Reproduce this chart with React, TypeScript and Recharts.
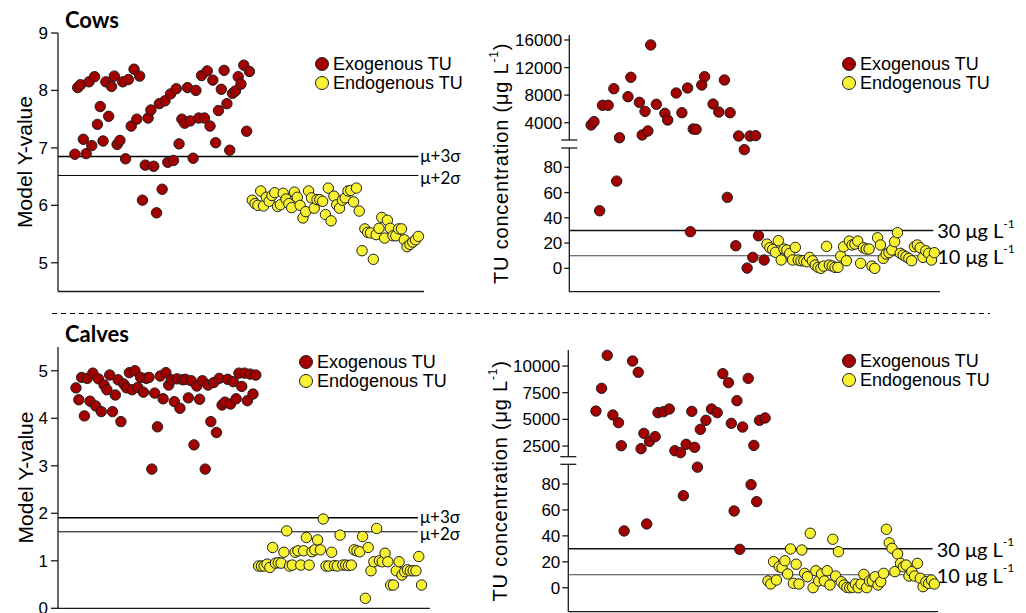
import React from 'react';
import { ScatterChart, Scatter, XAxis, YAxis, ReferenceLine, Legend } from 'recharts';

const RED = '#a30000';
const YELLOW = '#f9f233';
const EDGE = '#1e1e1e';
const AXIS = '#1a1a1a';
const FONT = '"Liberation Sans", Arial, Helvetica, sans-serif';
const NOTE_FONT = 'Lato, "Open Sans", sans-serif';

const seriesNames = ['Exogenous TU', 'Endogenous TU'];
const seriesColors = [RED, YELLOW];
const sigmaLabels = ['μ+3σ', 'μ+2σ'];
const tuLimitLabels = ['30 μg L', '10 μg L'];
const tuLimits = [30, 10];
const BREAK = 1000;

// ---------- Cows: model Y-value ----------
const cowsModelExo = [
  6.89, 8.05, 8.1, 7.15, 6.9, 8.15, 7.04, 8.24, 7.41, 7.72,
  7.12, 8.15, 7.55, 8.07, 8.25, 7.06, 7.13, 8.15, 6.81, 8.19,
  7.38, 8.37, 7.5, 8.25, 6.09, 6.7, 7.52, 7.66, 6.68, 5.87,
  7.77, 6.28, 7.82, 6.75, 7.94, 6.78, 8.03, 7.07, 7.5, 7.43,
  8.05, 7.47, 6.82, 8.0, 7.52, 8.26, 7.52, 8.34, 7.38, 8.18,
  7.09, 7.65, 8.02, 8.35, 7.77, 6.96, 7.95, 7.99, 8.24, 8.11,
  8.44, 7.29, 8.33,
];
const cowsModelEndo = [
  6.09, 6.03, 6.0, 6.25, 5.99, 6.14, 6.07, 6.17, 6.22, 5.98,
  6.01, 6.21, 6.11, 6.03, 5.96, 6.23, 6.14, 6.0, 5.78, 5.89,
  6.25, 6.13, 5.95, 6.1, 6.1, 6.07, 5.84, 6.3, 5.73, 6.16,
  6.01, 5.95, 6.09, 6.13, 6.25, 6.26, 6.06, 6.3, 5.9, 5.21,
  5.59, 5.53, 5.52, 5.06, 5.49, 5.6, 5.79, 5.43, 5.74, 5.6,
  5.47, 5.47, 5.59, 5.59, 5.4, 5.28, 5.32, 5.36, 5.4, 5.46,
];
const cowsModelTicks = [5, 6, 7, 8, 9];
const cowsModelDomain = [4.5, 9];
const cowsModelXDomain = [-6, 124];
const cowsModelLimits = [6.85, 6.52];
const cowsModelLineEnd = 122;

// ---------- Cows: TU concentration ----------
const cowsTuExoIdx = [
  0, 1, 3, 4, 6, 8, 9, 10, 13, 14, 17, 18, 19, 20, 21, 23, 26, 27, 30, 32,
  34, 35, 36, 37, 39, 40, 43, 45, 47, 48, 49, 51, 52, 54, 55, 56, 57, 58, 59, 61,
];
const cowsTuExoVal = [
  3670, 4150, 45.6, 6530, 6530, 8930, 69.1, 1820, 7770, 10590,
  6960, 2220, 5650, 2800, 15280, 6670, 5360, 4390, 8310, 5450,
  9040, 29.0, 3090, 3040, 9470, 10680, 6710, 5550, 10200, 56.2,
  5450, 17.9, 2070, 94, 0.2, 2070, 8.7, 2120, 25.8, 6.6,
];
const cowsTuEndo = [
  19.2, 16.3, 15.0, 12.7, 21.9, 6.6, 15.3, 14.5, 11.9, 6.6,
  16.6, 6.6, 6.0, 6.0, 5.2, 8.7, 6.0, 2.6, 0.8, 0.0,
  1.8, 17.4, 2.6, 1.8, 0.8, 0.8, 9.7, 17.1, 6.0, 21.6,
  18.5, 19.2, 21.6, 4.0, 16.3, 15.3, 15.3, 1.8, 0.0, 24.2,
  18.5, 7.9, 11.3, 12.4, 14.5, 21.1, 28.2, 11.9, 10.5, 9.2,
  7.9, 6.0, 17.1, 18.5, 16.3, 8.7, 13.9, 11.9, 6.6, 12.4,
];
const cowsTuUpperTicks = [4000, 8000, 12000, 16000];
const cowsTuUpperDomain = [1490, 16725];
const cowsTuLowerTicks = [0, 20, 40, 60, 80];
const cowsTuLowerDomain = [-18.5, 95.3];
const cowsTuXDomain = [-7.7, 123];
const cowsTuLineEnd = 120.6;

// ---------- Calves: model Y-value ----------
const calvesModelExo = [
  4.64, 4.39, 4.86, 4.05, 4.84, 4.36, 4.95, 4.26, 4.83, 4.14,
  4.7, 4.6, 4.91, 4.14, 4.49, 4.81, 3.93, 4.72, 4.64, 4.96,
  4.6, 5.0, 4.65, 4.86, 4.55, 4.84, 4.86, 2.93, 4.53, 3.82,
  4.89, 4.41, 4.96, 4.7, 4.81, 4.35, 4.83, 4.21, 4.81, 4.82,
  4.43, 4.79, 3.44, 4.68, 4.4, 4.79, 2.93, 4.7, 3.93, 4.75,
  3.7, 4.84, 4.28, 4.34, 4.82, 4.3, 4.77, 4.41, 4.95, 4.67,
  4.95, 4.37, 4.93, 4.51, 4.91,
];
const calvesModelEndo = [
  0.89, 0.89, 0.89, 0.93, 0.86, 1.28, 0.95, 0.96, 0.95, 1.18,
  1.63, 0.89, 0.91, 1.18, 1.21, 0.91, 1.21, 1.49, 0.91, 1.19,
  1.23, 1.44, 1.23, 1.88, 0.89, 0.89, 1.18, 0.9, 0.89, 1.54,
  0.91, 0.91, 0.9, 0.91, 1.23, 1.21, 1.19, 1.51, 0.21, 1.28,
  0.79, 0.98, 1.68, 1.0, 0.98, 1.16, 0.98, 0.49, 0.49, 0.79,
  0.98, 0.7, 0.77, 0.81, 0.79, 0.79, 0.79, 1.09, 0.49,
];
const calvesModelTicks = [0, 1, 2, 3, 4, 5];
const calvesModelDomain = [0, 5.5];
const calvesModelXDomain = [-6.4, 126];
const calvesModelLimits = [1.907, 1.61];
const calvesModelLineEnd = 121.7;

// ---------- Calves: TU concentration ----------
const calvesTuExoIdx = [
  0, 2, 4, 6, 8, 9, 10, 13, 15, 16, 17, 18, 19, 21, 22, 24, 26, 28, 30, 31,
  32, 34, 35, 36, 37, 39, 41, 43, 45, 47, 48, 49, 50, 51, 52, 54, 55, 56, 57, 58, 60,
];
const calvesTuExoVal = [
  5780, 7910, 11000, 5410, 4690, 2530, 43.8, 10470, 9410, 2250,
  3690, 49.2, 2940, 3380, 5630, 5720, 5970, 2060, 1880, 71.0,
  2660, 5750, 2380, 93, 4060, 4910, 5970, 5630, 9280, 8440,
  4630, 59.2, 6750, 29.6, 4280, 8840, 79.5, 2560, 66.4, 4910, 5130,
];
const calvesTuEndo = [
  5.2, 2.9, 20.1, 5.9, 16.2, 15.4, 20.8, 10.6, 29.9, 3.4,
  18.1, 2.9, 29.1, 11.1, 8.5, 42.0, 0.0, 13.1, 5.2, 10.6,
  5.2, 13.1, 2.1, 37.4, 9.0, 27.8, 4.6, 2.1, 0.3, 0.0,
  0.3, 2.9, 0.0, 2.9, 10.3, 0.0, 5.2, 5.2, 8.5, 2.1,
  4.6, 11.1, 45.1, 34.7, 30.4, 12.4, 26.0, 18.8, 16.2, 17.5,
  9.0, 12.4, 9.0, 18.8, 7.3, 0.8, 4.6, 3.4, 5.9, 2.9,
];
const calvesTuUpperTicks = [2500, 5000, 7500, 10000];
const calvesTuUpperDomain = [1500, 11500];
const calvesTuLowerTicks = [0, 20, 40, 60, 80];
const calvesTuLowerDomain = [-18.5, 95.2];
const calvesTuXDomain = [-9.8, 121.3];
const calvesTuLineEnd = 119.4;

type Pt = { x: number; y: number };
const seq = (vals: number[], start: number): Pt[] => vals.map((y, i) => ({ x: start + i, y }));
const pairs = (idx: number[], vals: number[]): Pt[] => idx.map((x, i) => ({ x, y: vals[i] }));

const dotShape = (fill: string) => (p: any) => (
  <circle cx={p.cx} cy={p.cy} r={5.2} fill={fill} stroke={EDGE} strokeWidth={1} />
);

const LegendBox = () => (
  <div style={{ fontFamily: FONT, fontSize: 18, lineHeight: '19px', color: '#000' }}>
    {seriesNames.map((name, i) => (
      <div key={name} style={{ display: 'flex', alignItems: 'center', whiteSpace: 'nowrap', height: 19 }}>
        <svg width={16} height={16} style={{ marginRight: 3, flex: 'none' }}>
          <circle cx={8} cy={8} r={6.5} fill={seriesColors[i]} stroke={EDGE} strokeWidth={1} />
        </svg>
        <span>{name}</span>
      </div>
    ))}
  </div>
);

const AxisTitle = (p: any) => {
  const { cx, cy, text, sup, tail, size = 21, spacing = 0 } = p;
  return (
    <text
      x={cx}
      y={cy}
      transform={`rotate(-90 ${cx} ${cy})`}
      textAnchor="middle"
      dominantBaseline="central"
      fontFamily={FONT}
      fontSize={size}
      letterSpacing={spacing}
      fill="#000"
    >
      {text}
      {sup ? (
        <tspan dy={-7} fontSize={12}>
          {sup}
        </tspan>
      ) : null}
      {tail ? <tspan dy={7}>{tail}</tspan> : null}
    </text>
  );
};

const RefText = (p: any) => {
  const { viewBox, text, sup, size = 17, gap = 2, shift = 0 } = p;
  if (!viewBox) return null;
  const x = viewBox.x + viewBox.width + gap;
  const y = viewBox.y + viewBox.height / 2 + shift;
  return (
    <text x={x} y={y} dominantBaseline="central" fontFamily={NOTE_FONT} fontSize={size} fill="#000">
      {text}
      {sup ? (
        <tspan dy={-size * 0.38} fontSize={size * 0.6}>
          {sup}
        </tspan>
      ) : null}
    </text>
  );
};

const axisLineStyle = { stroke: AXIS, strokeWidth: 1.3 };
const tickStyle = { fill: '#000', fontSize: 17, fontFamily: FONT };

function ModelPanel(props: any) {
  const { left, top, width, height, margin, exo, endo, ticks, domain, xDomain, limits, lineEnd, titlePos, legendPos } = props;
  const exoPts = seq(exo, 0);
  const endoPts = seq(endo, exo.length);
  return (
    <div style={{ position: 'absolute', left, top }}>
      <ScatterChart width={width} height={height} margin={margin}>
        <XAxis type="number" dataKey="x" domain={xDomain} tick={false} tickLine={false} height={1} axisLine={axisLineStyle} />
        <YAxis
          type="number"
          dataKey="y"
          domain={domain}
          ticks={ticks}
          interval={0}
          width={50}
          tickSize={7}
          tickMargin={3}
          axisLine={axisLineStyle}
          tickLine={axisLineStyle}
          tick={tickStyle}
          label={<AxisTitle cx={titlePos.cx} cy={titlePos.cy} text="Model Y-value" size={21} />}
        />
        {limits.map((v: number, i: number) => (
          <ReferenceLine
            key={i}
            ifOverflow="visible"
            segment={[{ x: xDomain[0], y: v }, { x: lineEnd, y: v }]}
            stroke="#000"
            strokeWidth={i === 0 ? 1.5 : 1}
            label={<RefText text={sigmaLabels[i]} size={17} gap={2} shift={i === 0 ? -1 : 2} />}
          />
        ))}
        <Scatter name={seriesNames[0]} data={exoPts} shape={dotShape(RED)} isAnimationActive={false} />
        <Scatter name={seriesNames[1]} data={endoPts} shape={dotShape(YELLOW)} isAnimationActive={false} />
        <Legend
          layout="vertical"
          align="center"
          verticalAlign="middle"
          content={<LegendBox />}
          wrapperStyle={{ left: legendPos.left, top: legendPos.top, width: 'auto', height: 'auto' }}
        />
      </ScatterChart>
    </div>
  );
}

function TuPanel(props: any) {
  const {
    left, top, width, height, plotLeft, plotRight, upperTop, upperBottom, lowerTop, lowerBottom,
    exoIdx, exoVal, endo, upperTicks, upperDomain, lowerTicks, lowerDomain, xDomain, lineEnd,
    tickSize, titleCx, legendPos,
  } = props;
  const exo = pairs(exoIdx, exoVal);
  const upper = exo.filter((p) => p.y >= BREAK);
  const lower = exo.filter((p) => p.y < BREAK);
  const endoPts = seq(endo, Math.max(...exoIdx) + 1);
  const yAxisWidth = 80;
  const mLeft = plotLeft - yAxisWidth;
  const mRight = width - plotRight;
  const titleCy = (upperTop + lowerBottom) / 2;
  return (
    <div style={{ position: 'absolute', left, top, width, height }}>
      <div style={{ position: 'absolute', left: 0, top: 0 }}>
        <ScatterChart width={width} height={height} margin={{ top: upperTop, right: mRight, bottom: height - upperBottom, left: mLeft }}>
          <XAxis type="number" dataKey="x" domain={xDomain} hide />
          <YAxis
            type="number"
            dataKey="y"
            domain={upperDomain}
            ticks={upperTicks}
            interval={0}
            width={yAxisWidth}
            tickSize={tickSize}
            tickMargin={2}
            axisLine={axisLineStyle}
            tickLine={axisLineStyle}
            tick={tickStyle}
          />
          <Scatter name={seriesNames[0]} data={upper} shape={dotShape(RED)} isAnimationActive={false} />
          <Legend
            layout="vertical"
            align="center"
            verticalAlign="middle"
            content={<LegendBox />}
            wrapperStyle={{ left: legendPos.left, top: legendPos.top, width: 'auto', height: 'auto' }}
          />
        </ScatterChart>
      </div>
      <div style={{ position: 'absolute', left: 0, top: 0 }}>
        <ScatterChart width={width} height={height} margin={{ top: lowerTop, right: mRight, bottom: height - lowerBottom - 1, left: mLeft }}>
          <XAxis type="number" dataKey="x" domain={xDomain} tick={false} tickLine={false} height={1} axisLine={axisLineStyle} />
          <YAxis
            type="number"
            dataKey="y"
            domain={lowerDomain}
            ticks={lowerTicks}
            interval={0}
            width={yAxisWidth}
            tickSize={tickSize}
            tickMargin={2}
            axisLine={axisLineStyle}
            tickLine={axisLineStyle}
            tick={tickStyle}
            label={
              <AxisTitle cx={titleCx} cy={titleCy} text="TU concentration (μg L" sup="-1" tail=")" size={20} spacing={0.8} />
            }
          />
          {tuLimits.map((v, i) => (
            <ReferenceLine
              key={i}
              ifOverflow="visible"
              segment={[{ x: xDomain[0], y: v }, { x: lineEnd, y: v }]}
              stroke={i === 0 ? '#111' : '#444'}
              strokeWidth={i === 0 ? 1.5 : 1.1}
              label={<RefText text={tuLimitLabels[i]} sup="-1" size={20} gap={4} />}
            />
          ))}
          <Scatter name={seriesNames[0]} data={lower} shape={dotShape(RED)} isAnimationActive={false} />
          <Scatter name={seriesNames[1]} data={endoPts} shape={dotShape(YELLOW)} isAnimationActive={false} />
        </ScatterChart>
      </div>
      <svg width={width} height={height} style={{ position: 'absolute', left: 0, top: 0, pointerEvents: 'none' }}>
        <line x1={plotLeft - 8} x2={plotLeft + 8} y1={upperBottom} y2={upperBottom} stroke={AXIS} strokeWidth={1.3} />
        <line x1={plotLeft - 8} x2={plotLeft + 8} y1={lowerTop} y2={lowerTop} stroke={AXIS} strokeWidth={1.3} />
      </svg>
    </div>
  );
}

export default function App() {
  return (
    <div style={{ position: 'absolute', left: 0, top: 0, width: 1026, height: 613, overflow: 'hidden', background: '#fff' }}>
      <ModelPanel
        left={0}
        top={0}
        width={480}
        height={300}
        margin={{ top: 33, right: 56, bottom: 7.5, left: 8 }}
        exo={cowsModelExo}
        endo={cowsModelEndo}
        ticks={cowsModelTicks}
        domain={cowsModelDomain}
        xDomain={cowsModelXDomain}
        limits={cowsModelLimits}
        lineEnd={cowsModelLineEnd}
        titlePos={{ cx: 24.5, cy: 162 }}
        legendPos={{ left: 314, top: 54.5 }}
      />
      <TuPanel
        left={480}
        top={0}
        width={546}
        height={300}
        plotLeft={89.3}
        plotRight={460}
        upperTop={35}
        upperBottom={140}
        lowerTop={148}
        lowerBottom={291.7}
        exoIdx={cowsTuExoIdx}
        exoVal={cowsTuExoVal}
        endo={cowsTuEndo}
        upperTicks={cowsTuUpperTicks}
        upperDomain={cowsTuUpperDomain}
        lowerTicks={cowsTuLowerTicks}
        lowerDomain={cowsTuLowerDomain}
        xDomain={cowsTuXDomain}
        lineEnd={cowsTuLineEnd}
        tickSize={5}
        titleCx={21}
        legendPos={{ left: 361, top: 54.5 }}
      />
      <ModelPanel
        left={0}
        top={305}
        width={480}
        height={308}
        margin={{ top: 42, right: 50, bottom: 3.7, left: 8 }}
        exo={calvesModelExo}
        endo={calvesModelEndo}
        ticks={calvesModelTicks}
        domain={calvesModelDomain}
        xDomain={calvesModelXDomain}
        limits={calvesModelLimits}
        lineEnd={calvesModelLineEnd}
        titlePos={{ cx: 25.3, cy: 172.5 }}
        legendPos={{ left: 298, top: 47.5 }}
      />
      <TuPanel
        left={480}
        top={305}
        width={546}
        height={310}
        plotLeft={88.3}
        plotRight={458}
        upperTop={45}
        upperBottom={151.7}
        lowerTop={159.3}
        lowerBottom={306.7}
        exoIdx={calvesTuExoIdx}
        exoVal={calvesTuExoVal}
        endo={calvesTuEndo}
        upperTicks={calvesTuUpperTicks}
        upperDomain={calvesTuUpperDomain}
        lowerTicks={calvesTuLowerTicks}
        lowerDomain={calvesTuLowerDomain}
        xDomain={calvesTuXDomain}
        lineEnd={calvesTuLineEnd}
        tickSize={6}
        titleCx={20}
        legendPos={{ left: 361, top: 46.5 }}
      />
      <svg width={1026} height={613} style={{ position: 'absolute', left: 0, top: 0, pointerEvents: 'none' }}>
        <text x={65} y={28} fontFamily={NOTE_FONT} fontWeight={700} fontSize={22} fill="#000">
          Cows
        </text>
        <text x={65} y={342} fontFamily={NOTE_FONT} fontWeight={700} fontSize={22} fill="#000">
          Calves
        </text>
        <line x1={52} x2={990} y1={313.5} y2={313.5} stroke="#000" strokeWidth={1} strokeDasharray="5 4" />
      </svg>
    </div>
  );
}
